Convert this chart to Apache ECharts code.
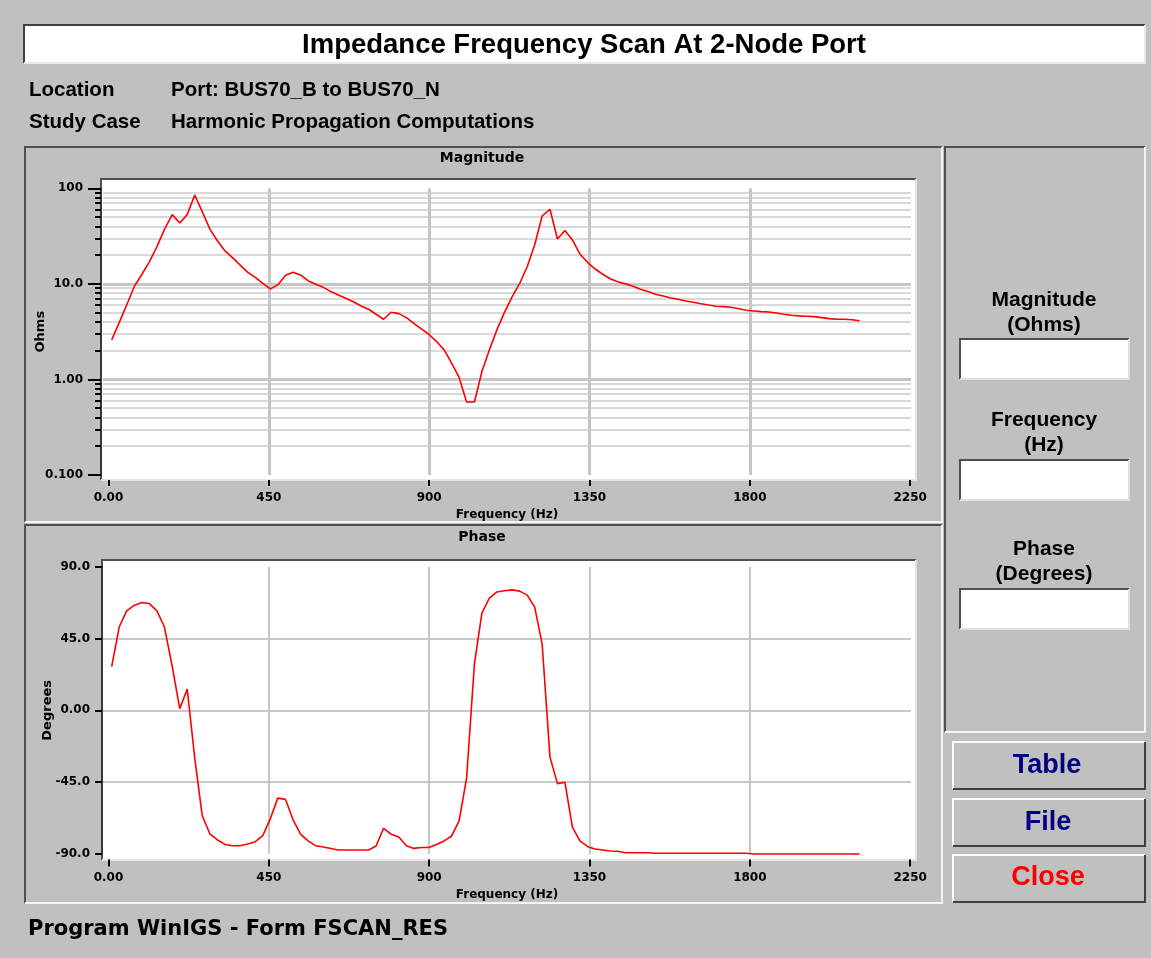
<!DOCTYPE html>
<html>
<head>
<meta charset="utf-8">
<title>Impedance Frequency Scan At 2-Node Port</title>
<script src="https://cdn.jsdelivr.net/npm/echarts@6/dist/echarts.min.js"></script>
<style>
    html, body { margin: 0; padding: 0; background: #c0c0c0; }
    #main { width: 1151px; height: 958px; }
</style>
</head>
<body>
<div id="main"></div>
<script>
// sample frequencies (Hz)
var freq = [9, 30, 51, 73, 94, 115, 136, 157, 179, 200,
    221, 242, 263, 285, 306, 327, 348, 369, 391, 412,
    433, 454, 475, 497, 518, 539, 560, 581, 603, 624,
    645, 666, 687, 709, 730, 751, 772, 793, 815, 836,
    857, 878, 899, 921, 942, 963, 984, 1005, 1027, 1048,
    1069, 1090, 1111, 1133, 1154, 1175, 1196, 1217, 1239, 1260,
    1281, 1302, 1323, 1345, 1366, 1387, 1408, 1429, 1451, 1472,
    1493, 1514, 1535, 1557, 1578, 1599, 1620, 1641, 1663, 1684,
    1705, 1726, 1747, 1769, 1790, 1811, 1832, 1853, 1875, 1896,
    1917, 1938, 1959, 1981, 2002, 2023, 2044, 2065, 2087, 2108];

// impedance magnitude (Ohms)
var magnitude = [2.59, 3.93, 6.0, 9.5, 12.6, 17.1, 24.5, 37.2, 53, 43.4,
    53, 85, 57, 37.2, 28.1, 22.1, 18.8, 15.8, 13.2, 11.7,
    10.1, 8.85, 9.75, 12.3, 13.2, 12.4, 10.8, 9.9, 9.2, 8.3,
    7.65, 7.07, 6.5, 5.87, 5.42, 4.81, 4.26, 5.05, 4.88, 4.43,
    3.87, 3.38, 2.97, 2.49, 2.04, 1.48, 1.05, 0.58, 0.58, 1.21,
    2.04, 3.30, 5.0, 7.35, 10.1, 15.1, 25.5, 51.3, 60.3, 29.5,
    36.1, 28.8, 20.5, 16.7, 14.3, 12.6, 11.3, 10.5, 10.0, 9.44,
    8.78, 8.3, 7.78, 7.47, 7.12, 6.9, 6.62, 6.41, 6.2, 6.01,
    5.83, 5.78, 5.69, 5.5, 5.3, 5.21, 5.12, 5.08, 4.96, 4.81,
    4.70, 4.62, 4.58, 4.54, 4.43, 4.33, 4.26, 4.26, 4.22, 4.12];

// impedance phase (degrees)
var phase = [27.4, 52.2, 62.3, 65.9, 67.6, 66.9, 62.3, 52.2, 27.4, 1.1,
    13.3, -29.8, -65.9, -77.6, -81.2, -84.0, -84.8, -84.8, -83.7, -82.3,
    -78.5, -68.0, -55.0, -55.8, -68.6, -77.6, -81.8, -84.8, -85.6, -86.5,
    -87.5, -87.5, -87.5, -87.5, -87.5, -85.0, -73.9, -77.6, -79.3, -84.8,
    -86.5, -85.9, -85.9, -84.0, -81.8, -78.7, -69.2, -42.4, 29.1, 61.0,
    70.3, 74.2, 74.9, 75.5, 74.7, 72.2, 64.8, 41.7, -29.3, -45.9,
    -45.1, -73.2, -81.8, -85.4, -86.9, -87.5, -88.1, -88.3, -89.2, -89.2,
    -89.2, -89.2, -89.5, -89.5, -89.5, -89.5, -89.5, -89.5, -89.5, -89.5,
    -89.5, -89.5, -89.5, -89.5, -89.5, -90, -90, -90, -90, -90,
    -90, -90, -90, -90, -90, -90, -90, -90, -90, -90];

var freqTicks = [0, 450, 900, 1350, 1800, 2250];
var magMajorTicks = [0.1, 1, 10, 100];
var magMinorTicks = [0.2, 0.3, 0.4, 0.5, 0.6, 0.7, 0.8, 0.9,
    2, 3, 4, 5, 6, 7, 8, 9, 20, 30, 40, 50, 60, 70, 80, 90];

var AXIS_FONT = 'DejaVu Sans';
var UI_FONT = 'Liberation Sans';
var DARK = '#505050';

var magData = [], phaseData = [];
for (var i = 0; i < freq.length; i++) {
    magData.push([freq[i], magnitude[i]]);
    phaseData.push([freq[i], phase[i]]);
}

// 3D style frame: top-left colour, bottom-right colour
function bevel(x, y, w, h, tl, br, lw) {
    return [
        { type: 'polyline', z: -5, silent: true,
          shape: { points: [[x, y + h], [x, y], [x + w, y]] },
          style: { stroke: tl, lineWidth: lw, fill: null } },
        { type: 'polyline', z: -5, silent: true,
          shape: { points: [[x + w, y], [x + w, y + h], [x, y + h]] },
          style: { stroke: br, lineWidth: lw, fill: null } }
    ];
}
function box(x, y, w, h, fill) {
    return { type: 'rect', z: -6, silent: true, shape: { x: x, y: y, width: w, height: h }, style: { fill: fill } };
}
function label(text, x, y, size, color, align, family) {
    return { type: 'text', z: 50, silent: true,
        style: { text: text, x: x, y: y, fill: color || '#000',
            font: 'bold ' + size + 'px "' + (family || UI_FONT) + '"',
            textAlign: align || 'left', textVerticalAlign: 'middle' } };
}

var graphics = [];
// title bar
graphics.push(box(24, 25, 1121, 38, '#ffffff'));
graphics = graphics.concat(bevel(24, 25, 1121, 38, '#404040', '#e8e8e8', 2));
// chart panels
graphics = graphics.concat(bevel(25, 147, 917, 375, DARK, '#f4f4f4', 2));
graphics = graphics.concat(bevel(25, 525, 917, 378, DARK, '#f4f4f4', 2));
graphics.push(box(101, 179, 815, 301, '#ffffff'));
graphics = graphics.concat(bevel(101, 179, 815, 301, DARK, '#e4e4e4', 2));
graphics.push(box(102, 560, 814, 300, '#ffffff'));
graphics = graphics.concat(bevel(102, 560, 814, 300, DARK, '#e4e4e4', 2));
// readout panel
graphics = graphics.concat(bevel(945, 147, 200, 585, DARK, '#f4f4f4', 2));
[339, 460, 589].forEach(function (y) {
    graphics.push(box(960, y, 169, 40, '#ffffff'));
    graphics = graphics.concat(bevel(960, y, 169, 40, DARK, '#e0e0e0', 2));
});
// buttons
[742, 799, 855].forEach(function (y) {
    graphics = graphics.concat(bevel(953, y, 192, 47, '#ffffff', '#404040', 2));
});

graphics.push(label('Impedance Frequency Scan At 2-Node Port', 584, 45, 27.5, '#000', 'center'));
graphics.push(label('Location', 29, 90, 20.5));
graphics.push(label('Port: BUS70_B to BUS70_N', 171, 90, 20.5));
graphics.push(label('Study Case', 29, 122, 20.5));
graphics.push(label('Harmonic Propagation Computations', 171, 122, 20.5));
graphics.push(label('Magnitude', 1044, 300, 21, '#000', 'center'));
graphics.push(label('(Ohms)', 1044, 325, 21, '#000', 'center'));
graphics.push(label('Frequency', 1044, 420, 21, '#000', 'center'));
graphics.push(label('(Hz)', 1044, 445, 21, '#000', 'center'));
graphics.push(label('Phase', 1044, 549, 21, '#000', 'center'));
graphics.push(label('(Degrees)', 1044, 574, 21, '#000', 'center'));
graphics.push(label('Table', 1047, 766, 27, '#000080', 'center'));
graphics.push(label('File', 1048, 823, 27, '#000080', 'center'));
graphics.push(label('Close', 1048, 878, 27, '#ff0000', 'center'));
graphics.push(label('Program WinIGS - Form FSCAN_RES', 28, 930, 21, '#000', 'left', AXIS_FONT));

var axisText = { color: '#000', fontFamily: AXIS_FONT, fontWeight: 'bold', fontSize: 12 };

function freqAxis(gridIndex, offset, tickLen, gridWidth, nameGap) {
    return {
        gridIndex: gridIndex,
        type: 'value',
        position: 'bottom',
        min: -15.4,
        max: 2252.2,
        offset: offset,
        name: 'Frequency (Hz)',
        nameLocation: 'middle',
        nameGap: nameGap,
        nameTextStyle: axisText,
        axisLine: { show: false, onZero: false },
        axisTick: { customValues: freqTicks, length: tickLen, lineStyle: { color: '#000', width: 2 } },
        axisLabel: Object.assign({
            customValues: freqTicks,
            margin: 12,
            formatter: function (v) { return v === 0 ? '0.00' : String(v); }
        }, axisText),
        splitLine: {
            show: true, showMinLine: false, showMaxLine: false,
            lineStyle: { color: '#c6c6c6', width: gridWidth }
        }
    };
}

var chart = echarts.init(document.getElementById('main'));
var option = {
    backgroundColor: '#c0c0c0',
    animation: false,
    title: [
        { text: 'Magnitude', left: 482, top: 151, textAlign: 'center', padding: 0,
          textStyle: { fontFamily: AXIS_FONT, fontWeight: 'bold', fontSize: 14, color: '#000' } },
        { text: 'Phase', left: 482, top: 530, textAlign: 'center', padding: 0,
          textStyle: { fontFamily: AXIS_FONT, fontWeight: 'bold', fontSize: 14, color: '#000' } }
    ],
    grid: [
        { left: 103, top: 188.3, width: 808, height: 286.7 },
        { left: 103, top: 566.7, width: 808, height: 287.3 }
    ],
    xAxis: [
        freqAxis(0, 5, 6, 3, 29),
        freqAxis(1, 5.5, 7, 2, 29)
    ],
    yAxis: [
        {
            gridIndex: 0, type: 'log', logBase: 10, min: 0.1, max: 100,
            position: 'left', offset: 2,
            name: 'Ohms', nameLocation: 'middle', nameGap: 54, nameRotate: 90,
            nameMoveOverlap: false,
            nameTextStyle: Object.assign({}, axisText, { fontSize: 13 }),
            axisLine: { show: true, onZero: false, lineStyle: { color: '#383838', width: 2 } },
            axisTick: { customValues: magMajorTicks, length: 13, lineStyle: { color: '#000', width: 2 } },
            axisLabel: Object.assign({
                customValues: magMajorTicks, margin: 18,
                formatter: function (v) {
                    if (v < 0.5) return '0.100';
                    if (v < 5) return '1.00';
                    if (v < 50) return '10.0';
                    return '100';
                }
            }, axisText),
            splitLine: { show: true, showMinLine: false, showMaxLine: false,
                lineStyle: { color: '#c6c6c6', width: 3 } }
        },
        {
            gridIndex: 0, type: 'log', logBase: 10, min: 0.1, max: 100,
            position: 'left', offset: 2,
            axisLine: { show: false, onZero: false },
            axisTick: { customValues: magMinorTicks, length: 6, lineStyle: { color: '#000', width: 2 } },
            axisLabel: { show: false },
            splitLine: { show: true, lineStyle: { color: '#cdcdcd', width: 1.5 } }
        },
        {
            gridIndex: 1, type: 'value', min: -90, max: 90, interval: 45,
            position: 'left', offset: 1,
            name: 'Degrees', nameLocation: 'middle', nameGap: 48, nameRotate: 90,
            nameMoveOverlap: false,
            nameTextStyle: Object.assign({}, axisText, { fontSize: 13 }),
            axisLine: { show: true, onZero: false, lineStyle: { color: '#383838', width: 2 } },
            axisTick: { length: 7, lineStyle: { color: '#000', width: 2 } },
            axisLabel: Object.assign({
                margin: 12,
                formatter: function (v) { return v === 0 ? '0.00' : v.toFixed(1); }
            }, axisText),
            splitLine: { show: true, showMinLine: false, showMaxLine: false,
                lineStyle: { color: '#c8c8c8', width: 2 } }
        }
    ],
    series: [
        {
            name: 'Magnitude', type: 'line', xAxisIndex: 0, yAxisIndex: 0,
            data: magData, showSymbol: false, z: 5,
            lineStyle: { color: '#ff0000', width: 1.6 }
        },
        {
            name: 'Phase', type: 'line', xAxisIndex: 1, yAxisIndex: 2,
            data: phaseData, showSymbol: false, z: 5, clip: false,
            lineStyle: { color: '#ff0000', width: 1.6 }
        }
    ],
    graphic: { elements: graphics }
};
chart.setOption(option);
</script>
</body>
</html>
